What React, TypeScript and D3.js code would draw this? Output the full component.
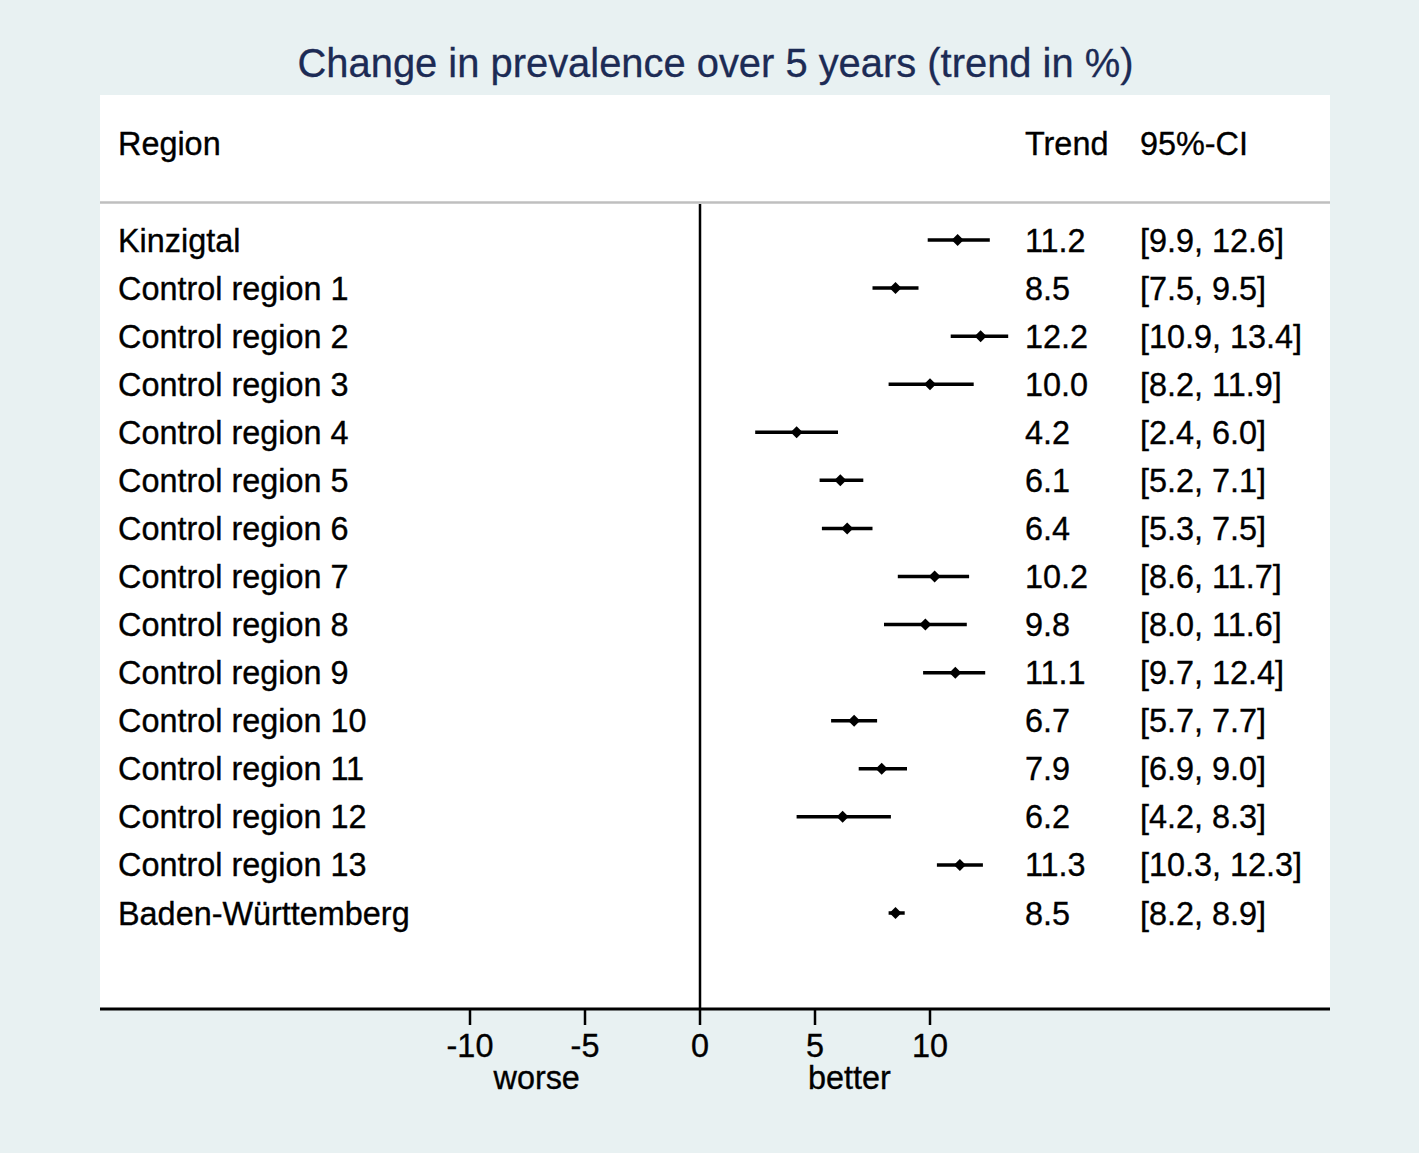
import React from "react";
import * as d3 from "d3";

const regions = [
  "Kinzigtal",
  "Control region 1",
  "Control region 2",
  "Control region 3",
  "Control region 4",
  "Control region 5",
  "Control region 6",
  "Control region 7",
  "Control region 8",
  "Control region 9",
  "Control region 10",
  "Control region 11",
  "Control region 12",
  "Control region 13",
  "Baden-Württemberg",
];
const trends = [11.2, 8.5, 12.2, 10.0, 4.2, 6.1, 6.4, 10.2, 9.8, 11.1, 6.7, 7.9, 6.2, 11.3, 8.5];
const lows = [9.9, 7.5, 10.9, 8.2, 2.4, 5.2, 5.3, 8.6, 8.0, 9.7, 5.7, 6.9, 4.2, 10.3, 8.2];
const highs = [12.6, 9.5, 13.4, 11.9, 6.0, 7.1, 7.5, 11.7, 11.6, 12.4, 7.7, 9.0, 8.3, 12.3, 8.9];
const xTicks = [-10, -5, 0, 5, 10];
const title = "Change in prevalence over 5 years (trend in %)";

const W = 1419;
const H = 1153;
const FONT = "'Liberation Sans', Arial, Helvetica, sans-serif";
const FS = 32.4;

export default function App() {
  const x = d3.scaleLinear().domain([0, 10]).range([700, 930]);
  const y = d3
    .scalePoint<number>()
    .domain(d3.range(regions.length))
    .range([240, 913]);
  const diamond = d3.symbol().type(d3.symbolSquare).size(72)();
  const fmt = (v: number) => v.toFixed(1);
  const tickFmt = (v: number) => String(v).replace("\u2212", "-");

  const panelL = 100,
    panelR = 1330,
    panelT = 95,
    axisY = 1009;

  const txt = { fontSize: FS, fill: "#000", stroke: "#000", strokeWidth: 0.35 };

  return (
    <svg
      width={W}
      height={H}
      style={{ position: "absolute", left: 0, top: 0, fontFamily: FONT }}
    >
      <rect x={0} y={0} width={W} height={H} fill="#e8f1f2" />
      <rect x={panelL} y={panelT} width={panelR - panelL} height={axisY - panelT} fill="#ffffff" />
      <text x={715.5} y={77} textAnchor="middle" fontSize={39.9} fill="#1c2b55" stroke="#1c2b55" strokeWidth={0.3}>
        {title}
      </text>
      {/* header */}
      <text x={118} y={155} {...txt}>Region</text>
      <text x={1025} y={155} {...txt}>Trend</text>
      <text x={1140} y={155} {...txt}>95%-CI</text>
      <line x1={panelL} x2={panelR} y1={202.5} y2={202.5} stroke="#bfbfbf" strokeWidth={2.5} />
      {/* zero line */}
      <line x1={x(0)} x2={x(0)} y1={204} y2={axisY} stroke="#000" strokeWidth={2.5} />
      {regions.map((r, i) => {
        const yy = y(i) as number;
        return (
          <g key={r}>
            <text x={118} y={yy + 11.5} {...txt}>{r}</text>
            <line x1={x(lows[i])} x2={x(highs[i])} y1={yy} y2={yy} stroke="#000" strokeWidth={3.5} />
            <path d={diamond as string} transform={`translate(${x(trends[i])},${yy}) rotate(45)`} fill="#000" />
            <text x={1025} y={yy + 11.5} {...txt}>{fmt(trends[i])}</text>
            <text x={1140} y={yy + 11.5} {...txt}>
              {`[${fmt(lows[i])}, ${fmt(highs[i])}]`}
            </text>
          </g>
        );
      })}
      {/* axis */}
      <line x1={panelL} x2={panelR} y1={axisY} y2={axisY} stroke="#000" strokeWidth={3} />
      {xTicks.map((t) => (
        <g key={t}>
          <line x1={x(t)} x2={x(t)} y1={axisY} y2={axisY + 16} stroke="#000" strokeWidth={2.5} />
          <text x={x(t)} y={1057} textAnchor="middle" {...txt}>
            {tickFmt(t)}
          </text>
        </g>
      ))}
      <text x={x(-7.1)} y={1089} textAnchor="middle" {...txt}>worse</text>
      <text x={x(6.5)} y={1089} textAnchor="middle" {...txt}>better</text>
    </svg>
  );
}
